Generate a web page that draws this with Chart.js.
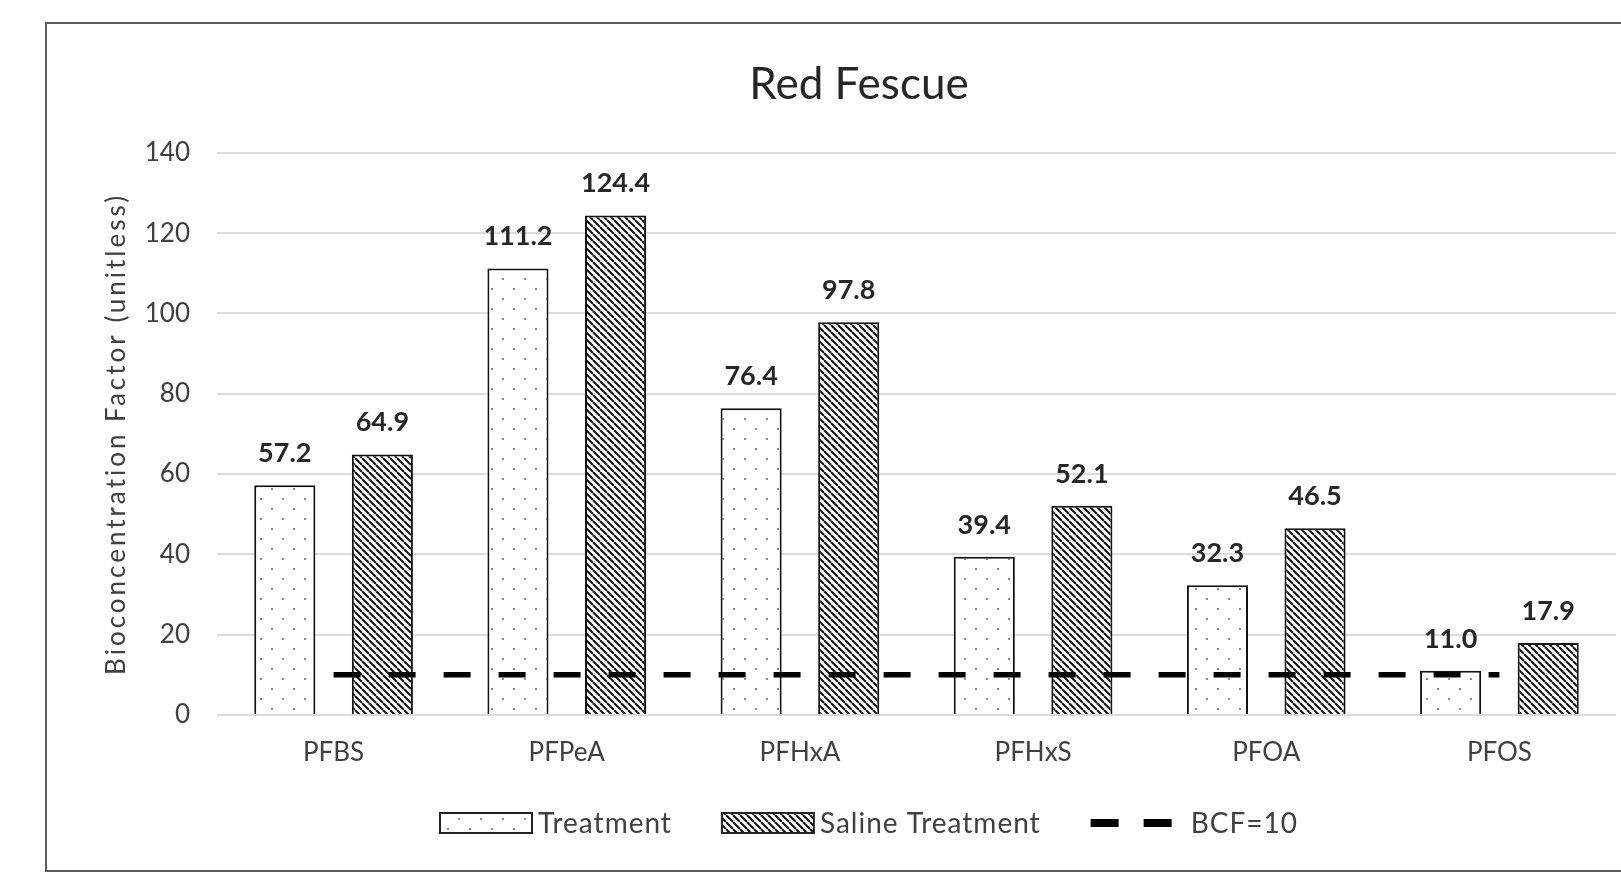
<!DOCTYPE html>
<html>
<head>
<meta charset="utf-8">
<script src="https://cdn.jsdelivr.net/npm/chart.js@4.4.1/dist/chart.umd.min.js"></script>
<style>
  html, body { margin: 0; padding: 0; background: #fff; overflow: hidden; }
  .frame { position: absolute; left: 45px; top: 22px; width: 1610px; height: 846px; border: 2px solid #5a5a5a; }
</style>
</head>
<body>
<div class="frame"><canvas id="chart"></canvas></div>
<script>
const categories = ['PFBS', 'PFPeA', 'PFHxA', 'PFHxS', 'PFOA', 'PFOS'];
const treatment = [57.2, 111.2, 76.4, 39.4, 32.3, 11.0];
const saline = [64.9, 124.4, 97.8, 52.1, 46.5, 17.9];
const bcf = [10, 10, 10, 10, 10, 10];
const seriesNames = ['Treatment', 'Saline Treatment', 'BCF=10'];
const yTicks = [0, 20, 40, 60, 80, 100, 120, 140];

Chart.defaults.font.family = 'Lato';

function dotPattern() {
  const c = document.createElement('canvas');
  c.width = 22; c.height = 20;
  const g = c.getContext('2d');
  g.fillStyle = '#fff';
  g.fillRect(0, 0, 22, 20);
  g.fillStyle = '#8a8a8a';
  g.fillRect(4, 4, 2, 2);
  g.fillRect(15, 14, 2, 2);
  return g.createPattern(c, 'repeat');
}

function hatchPattern() {
  const s = 7;
  const c = document.createElement('canvas');
  c.width = s; c.height = s;
  const g = c.getContext('2d');
  g.fillStyle = '#fff';
  g.fillRect(0, 0, s, s);
  g.strokeStyle = '#111';
  g.lineWidth = 2;
  for (const k of [-1, 0, 1]) {
    g.beginPath();
    g.moveTo(k * s, 0);
    g.lineTo(k * s + s, s);
    g.stroke();
  }
  return g.createPattern(c, 'repeat');
}

const dots = dotPattern();
const hatch = hatchPattern();

// value labels, rotated y title and the legend
const extras = {
  id: 'extras',
  afterDatasetsDraw(chart) {
    const ctx = chart.ctx;
    ctx.save();
    ctx.font = 'bold 27px Lato';
    ctx.fillStyle = '#262626';
    ctx.textAlign = 'center';
    ctx.textBaseline = 'alphabetic';
    [0, 1].forEach(di => {
      chart.getDatasetMeta(di).data.forEach((bar, i) => {
        ctx.fillText(chart.data.datasets[di].data[i].toFixed(1), bar.x, bar.y - 23);
      });
    });
    ctx.restore();
  },
  afterDraw(chart) {
    const ctx = chart.ctx;
    const area = chart.chartArea;
    ctx.save();
    ctx.fillStyle = '#404040';
    ctx.font = '26px Lato';
    ctx.letterSpacing = '3px';
    ctx.textAlign = 'center';
    ctx.textBaseline = 'middle';
    ctx.translate(70, (area.top + area.bottom) / 2);
    ctx.rotate(-Math.PI / 2);
    ctx.fillText('Bioconcentration Factor (unitless)', 0, 0);
    ctx.restore();

    ctx.save();
    const cy = 799;
    let x = 393;
    ctx.font = '28px Lato';
    ctx.letterSpacing = '1px';
    ctx.textBaseline = 'middle';
    ctx.textAlign = 'left';
    const fills = [dots, hatch];
    for (let i = 0; i < 2; i++) {
      ctx.fillStyle = fills[i];
      ctx.fillRect(x, cy - 10, 92, 20);
      ctx.strokeStyle = '#222';
      ctx.lineWidth = 2;
      ctx.strokeRect(x, cy - 10, 92, 20);
      x += 98;
      ctx.fillStyle = '#404040';
      ctx.fillText(seriesNames[i], x, cy + 1);
      x += ctx.measureText(seriesNames[i]).width + 50;
    }
    ctx.strokeStyle = '#000';
    ctx.lineWidth = 8;
    ctx.setLineDash([28, 25]);
    ctx.beginPath();
    ctx.moveTo(x, cy);
    ctx.lineTo(x + 83, cy);
    ctx.stroke();
    ctx.setLineDash([]);
    ctx.fillStyle = '#404040';
    ctx.fillText(seriesNames[2], x + 100, cy + 1);
    ctx.restore();
  }
};

new Chart(document.getElementById('chart'), {
  data: {
    labels: categories,
    datasets: [
      {
        type: 'bar',
        label: seriesNames[0],
        data: treatment,
        backgroundColor: dots,
        borderColor: '#111',
        borderWidth: 2,
        categoryPercentage: 0.837,
        barPercentage: 0.626,
        order: 1
      },
      {
        type: 'bar',
        label: seriesNames[1],
        data: saline,
        backgroundColor: hatch,
        borderColor: '#111',
        borderWidth: 2,
        categoryPercentage: 0.837,
        barPercentage: 0.626,
        order: 1
      },
      {
        type: 'line',
        label: seriesNames[2],
        data: bcf,
        borderColor: '#000',
        borderWidth: 5.5,
        borderDash: [27, 28],
        borderCapStyle: 'butt',
        pointRadius: 0,
        fill: false,
        order: 0
      }
    ]
  },
  options: {
    responsive: true,
    maintainAspectRatio: false,
    animation: false,
    layout: { padding: { left: 55, right: 41, top: 0, bottom: 0 } },
    plugins: {
      legend: { display: false },
      tooltip: { enabled: false },
      title: {
        display: true,
        text: 'Red Fescue',
        color: '#262626',
        font: { size: 44, weight: 'normal' },
        padding: { top: 34, bottom: 42 }
      }
    },
    scales: {
      x: {
        grid: { display: false, drawTicks: false },
        border: { display: false },
        ticks: { color: '#404040', font: { size: 26 }, padding: 22 },
        afterFit: scale => { scale.height = 155; }
      },
      y: {
        min: 0,
        max: 140,
        afterBuildTicks: scale => { scale.ticks = yTicks.map(v => ({ value: v })); },
        grid: { color: '#dcdcdc', lineWidth: 2, drawTicks: false },
        border: { display: false },
        ticks: { color: '#404040', font: { size: 26 }, padding: 27 },
        afterFit: scale => { scale.width = 115; }
      }
    }
  },
  plugins: [extras]
});
</script>
</body>
</html>
